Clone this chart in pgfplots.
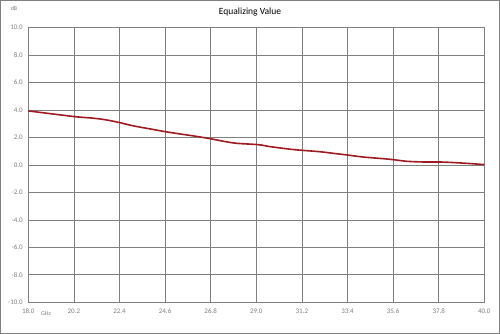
\documentclass[border=0pt]{standalone}
\usepackage{pgfplots}
\pgfplotsset{compat=1.18}
\usepackage{fontspec}
\setmainfont{Carlito}
\definecolor{gridgray}{HTML}{808080}
\definecolor{labgray}{HTML}{7F7F7F}
\definecolor{curve}{HTML}{9E1B22}
\begin{document}
\begin{tikzpicture}
\draw[draw=gridgray,line width=0.8pt] (0.4pt,0.4pt) rectangle (499.6pt,333.6pt);
\begin{axis}[
  at={(28.3pt,31.7pt)}, anchor=south west,
  scale only axis, width=456pt, height=274.6pt,
  xmin=18, xmax=40, ymin=-10, ymax=10,
  xtick={18,20.2,22.4,24.6,26.8,29,31.2,33.4,35.6,37.8,40},
  xticklabels={18.0,20.2,22.4,24.6,26.8,29.0,31.2,33.4,35.6,37.8,40.0},
  ytick={-10,-8,-6,-4,-2,0,2,4,6,8,10},
  yticklabels={-10.0,-8.0,-6.0,-4.0,-2.0,0.0,2.0,4.0,6.0,8.0,10.0},
  grid=major,
  major grid style={draw=gridgray,line width=0.8pt},
  axis line style={draw=gridgray,line width=0.8pt},
  major tick length=0pt,
  tick label style={font=\fontsize{7}{8}\selectfont,text=labgray},
  xticklabel style={yshift=-3pt},
  yticklabel style={xshift=-2pt},
  /pgf/number format/assume math mode=true,
  clip=false,
]
\addplot[curve,line width=1.6pt,smooth,tension=0.5] coordinates {
(18.0,3.94) (20.2,3.53) (21.14,3.41) (21.78,3.28) (22.4,3.09) (23.07,2.85)
(23.87,2.63) (24.6,2.43) (25.32,2.26) (25.96,2.12) (26.77,1.92) (27.41,1.73)
(28.05,1.58) (29.1,1.48) (29.66,1.34) (30.63,1.15) (31.2,1.07) (32.05,0.97)
(32.88,0.82) (33.39,0.73) (34.16,0.58) (35.13,0.46) (35.6,0.39) (36.26,0.27)
(37.06,0.22) (37.83,0.22) (38.35,0.19) (39.15,0.12) (40.0,0.03)
};
\end{axis}
\node[font=\fontsize{9.5}{11}\selectfont] at (250pt,322pt) {Equalizing Value};
\node[font=\fontsize{6}{7}\selectfont,text=labgray] at (14pt,326pt) {dB};
\node[font=\fontsize{6}{7}\selectfont,text=labgray] at (46pt,20.5pt) {GHz};
\end{tikzpicture}
\end{document}
